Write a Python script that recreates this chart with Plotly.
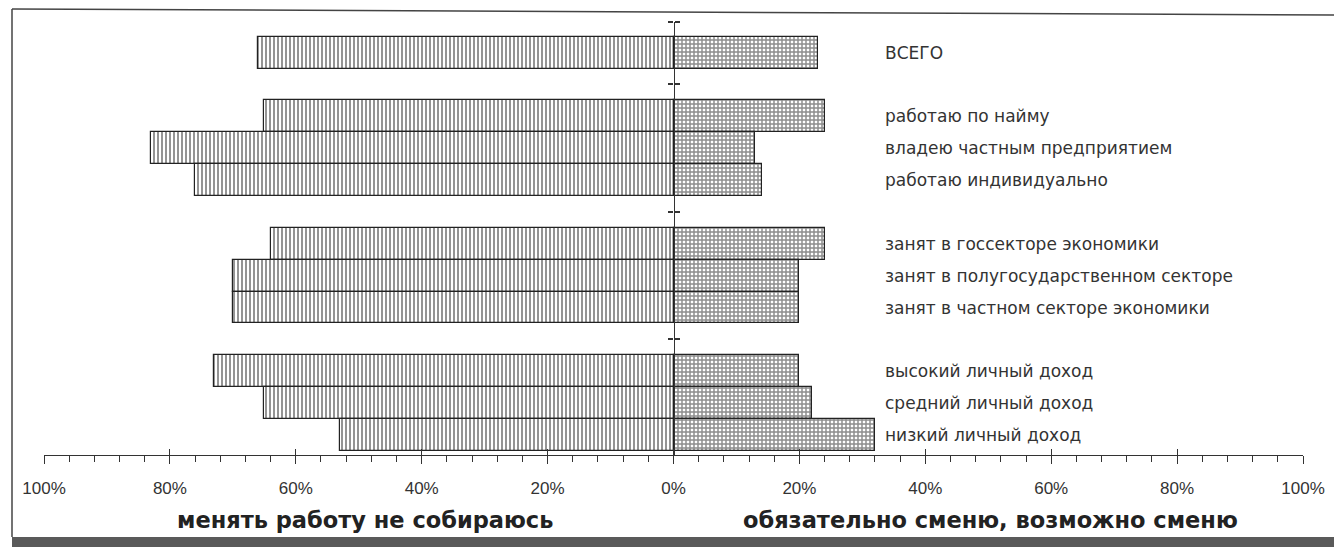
import plotly.graph_objects as go

# ---- data ----
categories = [
    "ВСЕГО",
    "работаю по найму",
    "владею частным предприятием",
    "работаю индивидуально",
    "занят в госсекторе экономики",
    "занят в полугосударственном секторе",
    "занят в частном секторе экономики",
    "высокий личный доход",
    "средний личный доход",
    "низкий личный доход",
]
row_pos = [12, 10, 9, 8, 6, 5, 4, 2, 1, 0]
no_change = [66, 65, 83, 76, 64, 70, 70, 73, 65, 53]      # менять работу не собираюсь
will_change = [23, 24, 13, 14, 24, 20, 20, 20, 22, 32]    # обязательно/возможно сменю
group_ticks = [3, 7, 11, 12.95]
major_vals = [-100, -80, -60, -40, -20, 0, 20, 40, 60, 80, 100]
major_text = ["100%", "80%", "60%", "40%", "20%", "0%", "20%", "40%", "60%", "80%", "100%"]
title_left = "менять работу не собираюсь"
title_right = "обязательно сменю, возможно сменю"

OFF = 8                    # page body margin
W, H = 1342 - OFF, 551 - OFF


def fx(px):
    return (px - OFF) / W


def fy(py):
    return 1 - (py - OFF) / H


X0PX, X1PX = 44, 1303      # -100% .. 100%
AXIS_Y = 455               # px of bottom axis line
TOP_Y = 22                 # px of top of the center line
YPOS_TOP = 12.96
YPOS_BOT = -0.627

xdom = [fx(X0PX), fx(X1PX)]
ydom = [fy(AXIS_Y), fy(TOP_Y)]
xpos0 = xdom[0] + 0.5 * (xdom[1] - xdom[0])

fig = go.Figure()
fig.add_trace(go.Bar(
    y=row_pos, x=[-v for v in no_change], orientation="h",
    marker=dict(color="white", line=dict(color="#222", width=1.2),
                pattern=dict(shape="|", size=4, solidity=0.5, fgcolor="#2a2a2a",
                             bgcolor="white", fillmode="overlay")),
    showlegend=False, xaxis="x", yaxis="y",
))
fig.add_trace(go.Bar(
    y=row_pos, x=will_change, orientation="h",
    marker=dict(color="white", line=dict(color="#222", width=1.2),
                pattern=dict(shape="+", size=4, solidity=0.6, fgcolor="#1a1a1a",
                             bgcolor="white", fillmode="overlay")),
    showlegend=False, xaxis="x", yaxis="y",
))

for cat, p in zip(categories, row_pos):
    fig.add_annotation(x=33.3, y=p, xref="x", yref="y", text=cat, showarrow=False,
                       xanchor="left", yanchor="middle",
                       font=dict(family="DejaVu Sans", size=17, color="#333"))

fig.add_annotation(x=fx(365), y=fy(520), xref="paper", yref="paper", text=title_left,
                   showarrow=False, xanchor="center", yanchor="middle",
                   font=dict(family="DejaVu Sans", size=22.5, color="#222", weight="bold"))
fig.add_annotation(x=fx(990), y=fy(520), xref="paper", yref="paper", text=title_right,
                   showarrow=False, xanchor="center", yanchor="middle",
                   font=dict(family="DejaVu Sans", size=22.5, color="#222", weight="bold"))

# frame
fig.add_shape(type="line", xref="paper", yref="paper", x0=fx(12), y0=fy(9), x1=1, y1=fy(15),
              line=dict(color="#444", width=1.5))
fig.add_shape(type="line", xref="paper", yref="paper", x0=fx(12), y0=fy(9), x1=fx(12), y1=fy(537),
              line=dict(color="#444", width=1.5))
fig.add_shape(type="rect", xref="paper", yref="paper", x0=fx(12), y0=fy(547), x1=1, y1=fy(537),
              fillcolor="#5a5a5a", line=dict(width=0))

xr = [-100, 100]
yr = [YPOS_BOT, YPOS_TOP]
fig.update_layout(
    width=W, height=H,
    margin=dict(l=0, r=0, t=0, b=0),
    paper_bgcolor="white", plot_bgcolor="rgba(0,0,0,0)",
    barmode="relative", bargap=0,
    xaxis=dict(domain=xdom, range=xr, anchor="y", showgrid=False, zeroline=False,
               showline=True, linecolor="#333", linewidth=1.2,
               tickvals=major_vals, ticktext=major_text, ticks="outside", ticklen=8,
               tickcolor="#333", tickwidth=1.2, ticklabelstandoff=9,
               tickfont=dict(family="Liberation Sans", size=17, color="#333"),
               minor=dict(dtick=4, tick0=0, ticks="outside", ticklen=6, tickcolor="#333",
                          tickwidth=1, showgrid=False),
               automargin=False, fixedrange=True),
    xaxis2=dict(overlaying="x", range=xr, anchor="free", position=ydom[0], side="bottom",
                showgrid=False, zeroline=False, showline=False, tickvals=major_vals,
                ticks="inside", ticklen=6, tickcolor="#333", tickwidth=1.2,
                showticklabels=False, automargin=False),
    yaxis=dict(domain=ydom, range=yr, anchor="free", position=xpos0, side="left",
               showgrid=False, zeroline=False, showline=True, linecolor="#333", linewidth=1.2,
               tickvals=group_ticks, ticks="outside", ticklen=5, tickcolor="#333", tickwidth=1.5,
               showticklabels=False, automargin=False, fixedrange=True),
    yaxis2=dict(overlaying="y", range=yr, anchor="free", position=xpos0, side="right",
                showgrid=False, zeroline=False, showline=False,
                tickvals=group_ticks, ticks="outside", ticklen=5, tickcolor="#333", tickwidth=1.5,
                showticklabels=False, automargin=False),
)
# invisible trace to activate the overlay axes
fig.add_trace(go.Scatter(x=[0], y=[0], xaxis="x2", yaxis="y2", mode="markers",
                         marker=dict(opacity=0), showlegend=False, hoverinfo="skip"))

fig.write_html("out.html")
